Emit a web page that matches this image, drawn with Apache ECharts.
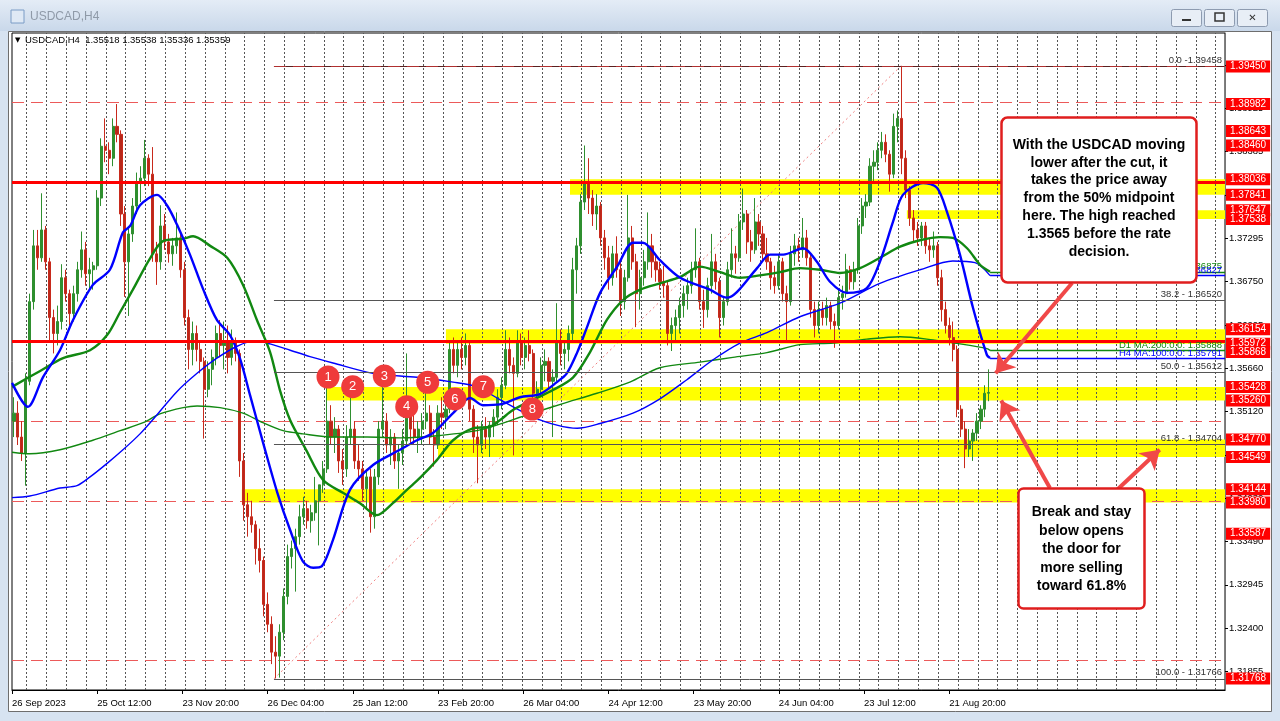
<!DOCTYPE html>
<html><head><meta charset="utf-8">
<script src="https://cdn.jsdelivr.net/npm/echarts@6/dist/echarts.min.js"></script>
<style>html,body{margin:0;padding:0;background:#d7e3f1;}#c{width:1280px;height:721px;}</style>
</head><body><div id="c"></div>
<script>
// ---------------- DATA ----------------
const opens = [
1.3500,1.3510,1.3480,1.3460,1.3550,1.3650,1.3720,1.3705,1.3740,1.3700,
1.3630,1.3610,1.3625,1.3680,1.3660,1.3635,1.3660,1.3690,1.3715,1.3685,
1.3690,1.3695,1.3780,1.3845,1.3840,1.3830,1.3870,1.3860,1.3760,1.3700,
1.3735,1.3770,1.3800,1.3805,1.3830,1.3810,1.3710,1.3700,1.3745,1.3725,
1.3710,1.3720,1.3730,1.3690,1.3630,1.3590,1.3610,1.3590,1.3575,1.3540,
1.3565,1.3580,1.3610,1.3595,1.3600,1.3580,1.3600,1.3585,1.3450,1.3395,
1.3380,1.3370,1.3340,1.3325,1.3270,1.3245,1.3210,1.3205,1.3235,1.3280,
1.3330,1.3340,1.3355,1.3380,1.3390,1.3375,1.3385,1.3400,1.3420,1.3440,
1.3500,1.3480,1.3490,1.3450,1.3440,1.3480,1.3490,1.3450,1.3440,1.3415,
1.3430,1.3380,1.3430,1.3490,1.3500,1.3470,1.3480,1.3450,1.3460,1.3475,
1.3520,1.3490,1.3480,1.3490,1.3500,1.3510,1.3480,1.3470,1.3510,1.3505,
1.3515,1.3590,1.3570,1.3590,1.3580,1.3595,1.3515,1.3480,1.3470,1.3490,
1.3480,1.3495,1.3505,1.3530,1.3545,1.3590,1.3570,1.3560,1.3600,1.3580,
1.3595,1.3585,1.3535,1.3540,1.3570,1.3575,1.3550,1.3555,1.3600,1.3585,
1.3590,1.3610,1.3690,1.3720,1.3775,1.3800,1.3780,1.3760,1.3770,1.3730,
1.3705,1.3680,1.3710,1.3690,1.3650,1.3680,1.3730,1.3700,1.3660,1.3680,
1.3700,1.3720,1.3700,1.3690,1.3675,1.3670,1.3610,1.3620,1.3630,1.3645,
1.3660,1.3670,1.3690,1.3700,1.3650,1.3640,1.3670,1.3700,1.3675,1.3630,
1.3650,1.3690,1.3710,1.3705,1.3750,1.3760,1.3725,1.3715,1.3750,1.3735,
1.3710,1.3700,1.3680,1.3670,1.3700,1.3660,1.3650,1.3710,1.3720,1.3715,
1.3730,1.3705,1.3640,1.3620,1.3640,1.3630,1.3645,1.3625,1.3620,1.3655,
1.3660,1.3690,1.3675,1.3690,1.3745,1.3770,1.3775,1.3820,1.3825,1.3840,
1.3850,1.3835,1.3810,1.3870,1.3880,1.3830,1.3790,1.3755,1.3740,1.3730,
1.3745,1.3720,1.3715,1.3720,1.3680,1.3640,1.3620,1.3605,1.3590,1.3515,
1.3490,1.3465,1.3475,1.3485,1.3500,1.3515,1.3535];
const highs = [
1.3530,1.3525,1.3500,1.3560,1.3660,1.3740,1.3740,1.3786,1.3745,1.3705,
1.3640,1.3645,1.3697,1.3690,1.3665,1.3670,1.3700,1.3738,1.3725,1.3705,
1.3700,1.3790,1.3855,1.3880,1.3850,1.3880,1.3898,1.3865,1.3770,1.3745,
1.3780,1.3812,1.3820,1.3853,1.3835,1.3844,1.3725,1.3771,1.3760,1.3735,
1.3730,1.3762,1.3735,1.3700,1.3640,1.3625,1.3620,1.3600,1.3580,1.3575,
1.3590,1.3620,1.3627,1.3625,1.3620,1.3615,1.3605,1.3590,1.3460,1.3410,
1.3400,1.3375,1.3365,1.3330,1.3285,1.3255,1.3230,1.3245,1.3290,1.3345,
1.3350,1.3365,1.3395,1.3405,1.3400,1.3395,1.3430,1.3410,1.3450,1.3543,
1.3520,1.3505,1.3495,1.3465,1.3495,1.3533,1.3500,1.3470,1.3450,1.3440,
1.3440,1.3440,1.3500,1.3547,1.3510,1.3490,1.3485,1.3470,1.3490,1.3585,
1.3530,1.3510,1.3500,1.3510,1.3537,1.3520,1.3490,1.3520,1.3530,1.3525,
1.3600,1.3605,1.3600,1.3605,1.3610,1.3600,1.3520,1.3495,1.3500,1.3505,
1.3500,1.3515,1.3540,1.3555,1.3614,1.3605,1.3580,1.3614,1.3610,1.3605,
1.3614,1.3590,1.3550,1.3580,1.3590,1.3580,1.3565,1.3648,1.3615,1.3600,
1.3620,1.3705,1.3730,1.3785,1.3846,1.3830,1.3790,1.3785,1.3775,1.3740,
1.3720,1.3720,1.3732,1.3700,1.3690,1.3784,1.3745,1.3710,1.3690,1.3715,
1.3762,1.3735,1.3710,1.3700,1.3695,1.3675,1.3630,1.3640,1.3655,1.3670,
1.3680,1.3700,1.3742,1.3705,1.3665,1.3680,1.3735,1.3710,1.3680,1.3655,
1.3700,1.3742,1.3720,1.3760,1.3792,1.3765,1.3740,1.3780,1.3760,1.3745,
1.3730,1.3705,1.3695,1.3710,1.3705,1.3670,1.3720,1.3735,1.3730,1.3755,
1.3740,1.3710,1.3650,1.3650,1.3650,1.3655,1.3650,1.3635,1.3665,1.3670,
1.3710,1.3695,1.3700,1.3755,1.3780,1.3785,1.3830,1.3840,1.3850,1.3863,
1.3860,1.3840,1.3886,1.3890,1.3946,1.3840,1.3795,1.3765,1.3750,1.3750,
1.3750,1.3730,1.3738,1.3725,1.3690,1.3650,1.3630,1.3625,1.3595,1.3520,
1.3500,1.3490,1.3490,1.3510,1.3520,1.3545,1.3565];
const lows = [
1.3480,1.3470,1.3450,1.3419,1.3545,1.3640,1.3690,1.3700,1.3690,1.3600,
1.3585,1.3595,1.3615,1.3650,1.3620,1.3625,1.3650,1.3680,1.3670,1.3665,
1.3665,1.3690,1.3770,1.3825,1.3810,1.3820,1.3850,1.3745,1.3656,1.3632,
1.3725,1.3760,1.3775,1.3795,1.3795,1.3700,1.3671,1.3690,1.3715,1.3699,
1.3695,1.3710,1.3680,1.3620,1.3565,1.3570,1.3575,1.3560,1.3478,1.3530,
1.3545,1.3570,1.3580,1.3565,1.3560,1.3570,1.3575,1.3430,1.3375,1.3355,
1.3360,1.3320,1.3310,1.3255,1.3235,1.3195,1.3177,1.3178,1.3225,1.3270,
1.3315,1.3286,1.3345,1.3370,1.3365,1.3360,1.3375,1.3344,1.3410,1.3435,
1.3470,1.3460,1.3435,1.3420,1.3430,1.3470,1.3440,1.3425,1.3400,1.3390,
1.3360,1.3365,1.3420,1.3480,1.3460,1.3445,1.3440,1.3415,1.3445,1.3470,
1.3470,1.3470,1.3460,1.3470,1.3490,1.3470,1.3443,1.3465,1.3490,1.3490,
1.3510,1.3560,1.3555,1.3565,1.3570,1.3500,1.3460,1.3422,1.3460,1.3465,
1.3455,1.3480,1.3495,1.3515,1.3540,1.3560,1.3457,1.3555,1.3570,1.3565,
1.3575,1.3525,1.3515,1.3530,1.3550,1.3540,1.3480,1.3550,1.3570,1.3565,
1.3575,1.3600,1.3660,1.3710,1.3765,1.3760,1.3745,1.3740,1.3720,1.3690,
1.3665,1.3670,1.3680,1.3632,1.3640,1.3675,1.3690,1.3618,1.3640,1.3670,
1.3690,1.3680,1.3675,1.3665,1.3655,1.3595,1.3588,1.3600,1.3610,1.3630,
1.3640,1.3660,1.3680,1.3640,1.3617,1.3630,1.3660,1.3665,1.3605,1.3620,
1.3645,1.3680,1.3685,1.3700,1.3740,1.3710,1.3700,1.3710,1.3720,1.3700,
1.3690,1.3665,1.3660,1.3665,1.3650,1.3600,1.3645,1.3695,1.3700,1.3705,
1.3695,1.3630,1.3605,1.3610,1.3620,1.3620,1.3615,1.3592,1.3615,1.3640,
1.3655,1.3665,1.3665,1.3685,1.3735,1.3755,1.3770,1.3800,1.3815,1.3830,
1.3825,1.3788,1.3805,1.3850,1.3810,1.3780,1.3745,1.3725,1.3720,1.3720,
1.3710,1.3700,1.3705,1.3670,1.3625,1.3610,1.3595,1.3575,1.3505,1.3480,
1.3441,1.3455,1.3450,1.3475,1.3490,1.3505,1.3525];
const closes = [
1.3510,1.3480,1.3460,1.3550,1.3650,1.3720,1.3705,1.3740,1.3700,1.3630,
1.3610,1.3625,1.3680,1.3660,1.3635,1.3660,1.3690,1.3715,1.3685,1.3690,
1.3695,1.3780,1.3845,1.3840,1.3830,1.3870,1.3860,1.3760,1.3700,1.3735,
1.3770,1.3800,1.3805,1.3830,1.3810,1.3710,1.3700,1.3745,1.3725,1.3710,
1.3720,1.3730,1.3690,1.3630,1.3590,1.3610,1.3590,1.3575,1.3540,1.3565,
1.3580,1.3610,1.3595,1.3600,1.3580,1.3600,1.3585,1.3450,1.3395,1.3380,
1.3370,1.3340,1.3325,1.3270,1.3245,1.3210,1.3205,1.3235,1.3280,1.3330,
1.3340,1.3355,1.3380,1.3390,1.3375,1.3385,1.3400,1.3420,1.3440,1.3500,
1.3480,1.3490,1.3450,1.3440,1.3480,1.3490,1.3450,1.3440,1.3415,1.3430,
1.3380,1.3430,1.3490,1.3500,1.3470,1.3480,1.3450,1.3460,1.3475,1.3520,
1.3490,1.3480,1.3490,1.3500,1.3510,1.3480,1.3470,1.3510,1.3505,1.3515,
1.3590,1.3570,1.3590,1.3580,1.3595,1.3515,1.3480,1.3470,1.3490,1.3480,
1.3495,1.3505,1.3530,1.3545,1.3590,1.3570,1.3560,1.3600,1.3580,1.3595,
1.3585,1.3535,1.3540,1.3570,1.3575,1.3550,1.3555,1.3600,1.3585,1.3590,
1.3610,1.3690,1.3720,1.3775,1.3800,1.3780,1.3760,1.3770,1.3730,1.3705,
1.3680,1.3710,1.3690,1.3650,1.3680,1.3730,1.3700,1.3660,1.3680,1.3700,
1.3720,1.3700,1.3690,1.3675,1.3670,1.3610,1.3620,1.3630,1.3645,1.3660,
1.3670,1.3690,1.3700,1.3650,1.3640,1.3670,1.3700,1.3675,1.3630,1.3650,
1.3690,1.3710,1.3705,1.3750,1.3760,1.3725,1.3715,1.3750,1.3735,1.3710,
1.3700,1.3680,1.3670,1.3700,1.3660,1.3650,1.3710,1.3720,1.3715,1.3730,
1.3705,1.3640,1.3620,1.3640,1.3630,1.3645,1.3625,1.3620,1.3655,1.3660,
1.3690,1.3675,1.3690,1.3745,1.3770,1.3775,1.3820,1.3825,1.3840,1.3850,
1.3835,1.3810,1.3870,1.3880,1.3830,1.3790,1.3755,1.3740,1.3730,1.3745,
1.3720,1.3715,1.3720,1.3680,1.3640,1.3620,1.3605,1.3590,1.3515,1.3490,
1.3465,1.3475,1.3485,1.3500,1.3515,1.3535,1.3536];

// moving averages: [trading-day, price]
const maH4Fast = [[0,1.3548],[4.0,1.3518],[7.8,1.3555],[12.1,1.3589],[15.4,1.3627],[20.4,1.3671],[24.7,1.3690],[28.0,1.3737],[29.8,1.3745],[32.3,1.3771],[36.6,1.3784],[39.1,1.3771],[41.6,1.3747],[44.9,1.3709],[48.2,1.3666],[51.7,1.3627],[55.0,1.3608],[57.5,1.3579],[60.1,1.3532],[63.3,1.3474],[66.9,1.3411],[70.2,1.3363],[73.4,1.3324],[76.0,1.3316],[78.2,1.3318],[81.0,1.3351],[85.3,1.3414],[91.1,1.3445],[97.9,1.3464],[102.2,1.3476],[106.2,1.3485],[111.3,1.3510],[115.6,1.3529],[118.8,1.3520],[123.1,1.3521],[128.2,1.3530],[133.2,1.3534],[137.5,1.3549],[140.0,1.3560],[142.6,1.3586],[145.1,1.3618],[148.4,1.3661],[152.7,1.3694],[156.7,1.3724],[159.2,1.3724],[163.5,1.3702],[168.6,1.3680],[176.1,1.3665],[180.4,1.3655],[182.9,1.3662],[188.0,1.3692],[191.3,1.3709],[194.6,1.3709],[199.6,1.3717],[203.1,1.3700],[206.4,1.3675],[210.7,1.3661],[215.7,1.3667],[219.0,1.3700],[222.3,1.3750],[224.8,1.3784],[229.9,1.3799],[233.4,1.3793],[235.9,1.3763],[239.2,1.3709],[242.5,1.3642],[246.0,1.3583],[246.8,1.35791]];
const maH4Slow = [[0,1.3543],[7.1,1.3563],[12.9,1.3579],[19.7,1.3589],[24.0,1.3608],[27.3,1.3637],[30.5,1.3665],[34.8,1.3704],[38.1,1.3726],[43.2,1.3729],[45.7,1.3732],[50.0,1.3720],[54.3,1.3705],[58.3,1.3671],[61.8,1.3627],[65.1,1.3587],[67.6,1.3539],[70.2,1.3501],[74.2,1.3464],[78.5,1.3426],[83.5,1.3410],[87.8,1.3397],[92.1,1.3382],[96.1,1.3397],[99.7,1.3414],[103.0,1.3429],[107.2,1.3451],[111.3,1.3476],[116.3,1.3491],[120.6,1.3493],[123.1,1.3501],[126.4,1.3514],[131.5,1.3527],[136.5,1.3539],[141.6,1.3555],[145.9,1.3587],[150.1,1.3627],[154.2,1.3652],[158.5,1.3665],[163.5,1.3673],[168.6,1.3681],[173.6,1.3694],[178.7,1.3687],[183.7,1.3680],[188.7,1.3683],[193.8,1.3687],[198.8,1.3692],[203.9,1.3690],[208.9,1.3686],[214.0,1.3692],[219.0,1.3705],[224.1,1.3719],[229.1,1.3727],[234.2,1.3731],[237.4,1.3730],[241.0,1.3717],[244.3,1.3696],[246.8,1.36875]];
const maD1Fast = [[0,1.3404],[4.5,1.3406],[12.1,1.3416],[16.4,1.3419],[19.7,1.3430],[24.0,1.3447],[28.0,1.3464],[32.3,1.3484],[36.6,1.3508],[41.6,1.3537],[46.7,1.3560],[51.7,1.3579],[56.8,1.3594],[61.3,1.3601],[65.1,1.3597],[70.2,1.3589],[75.2,1.3581],[81.0,1.3573],[91.1,1.3560],[102.2,1.3555],[111.3,1.3549],[117.3,1.3543],[123.1,1.3527],[131.5,1.3505],[137.5,1.3495],[142.6,1.3491],[148.4,1.3497],[156.7,1.3510],[163.5,1.3528],[170.3,1.3552],[176.9,1.3577],[183.7,1.3598],[190.5,1.3611],[198.8,1.3631],[208.9,1.3648],[219.0,1.3673],[229.1,1.3690],[237.4,1.3701],[243.0,1.3699],[246.8,1.36827]];
const maD1Slow = [[0,1.3461],[4.5,1.3459],[12.1,1.3464],[20.4,1.3476],[27.3,1.3488],[33.1,1.3498],[37.3,1.3509],[43.2,1.3517],[46.7,1.3519],[52.5,1.3517],[58.3,1.3510],[63.3,1.3498],[68.4,1.3488],[73.4,1.3484],[81.0,1.3480],[89.6,1.3480],[97.9,1.3479],[108.0,1.3482],[118.1,1.3489],[130.7,1.3509],[139.0,1.3522],[147.6,1.3535],[155.9,1.3549],[163.5,1.3567],[173.6,1.3574],[181.9,1.3580],[190.5,1.3586],[198.8,1.3596],[207.2,1.3598],[215.7,1.3603],[224.1,1.3606],[232.4,1.3602],[239.2,1.3597],[246.0,1.3591],[246.8,1.35888]];
const maLastDay = 246.8;
const maLevels = [1.35791, 1.36875, 1.36827, 1.35888];
const maLevelTexts = ['H4 MA:100:0.0: 1.35791', 'H4 MA:200:0.0: 1.36875', 'D1 MA:100:0.0: 1.36827', 'D1 MA:200:0.0: 1.35888'];

// time axis
const timeTicks = [0, 21.5, 43, 64.5, 86, 107.5, 129, 150.5, 172, 193.5, 215, 236.5];
const timeLabels = ['26 Sep 2023','25 Oct 12:00','23 Nov 20:00','26 Dec 04:00','25 Jan 12:00','23 Feb 20:00','26 Mar 04:00','24 Apr 12:00','23 May 20:00','24 Jun 04:00','23 Jul 12:00','21 Aug 20:00'];
// price axis
const priceTicks = [1.31855,1.32400,1.32945,1.33490,1.34030,1.34575,1.35120,1.35660,1.36205,1.36750,1.37295,1.37840,1.38385,1.38925,1.39470];
const priceTagLevels = [1.39450,1.38982,1.38643,1.38460,1.38036,1.37841,1.37647,1.37538,1.36154,1.35972,1.35868,1.35428,1.35260,1.34770,1.34549,1.34144,1.33980,1.33587,1.31768];
const dashedLevels = [1.38982,1.38643,1.38460,1.37841,1.37647,1.37538,1.36154,1.35972,1.35428,1.35260,1.34770,1.34549,1.34144,1.33980,1.33587,1.31768];
const solidLevels = [1.38036,1.35868];
const topLevel = 1.39450;
// support / resistance zones
const zoneTops    = [1.38036,1.37647,1.36154,1.35428,1.34770,1.34144];
const zoneBottoms = [1.37841,1.37538,1.35972,1.35260,1.34549,1.33980];
const zoneStartDays = [140.8,225.8,109.5,79.5,107.5,58.0];
// fibonacci
const fibRatios = ['0.0','38.2','50.0','61.8','100.0'];
const fibPrices = [1.39458,1.36520,1.35612,1.34704,1.31766];
const fibLowDay = 66.1, fibHighDay = 224.3;
// numbered test markers
const markerDays   = [79.74,85.97,93.94,99.6,104.9,111.78,118.92,131.29];
const markerPrices = [1.35554,1.35432,1.35567,1.35181,1.35488,1.35278,1.35432,1.35152];
const markerLabels = ['1','2','3','4','5','6','7','8'];
// annotation arrows
const arrowFromDays = [267.5, 261.9, 278.8];
const arrowFromPrices = [1.36734, 1.34161, 1.34136];
const arrowToDays = [248.2, 249.6, 289.6];
const arrowToPrices = [1.35600, 1.35260, 1.34640];
const noteTop = ['With the USDCAD moving','lower after the cut, it','takes the price away','from the 50% midpoint','here. The high reached','1.3565 before the rate','decision.'];
const noteBottom = ['Break and stay','below opens','the door for','more selling','toward 61.8%'];

// ---------------- CHART ----------------
const F = '"Liberation Sans", Arial, sans-serif';
const TMAX = 306.08;
const candleRows = opens.map((o, i) => [i + 0.5, o, closes[i], lows[i], highs[i]]);
const holder = [[0, 1.35]];
const gridDays = []; for (let t = 3.7; t < TMAX; t += 5) gridDays.push(t);

function blankLine(extra) {
  return Object.assign({ type: 'line', data: holder, symbol: 'none', showSymbol: false, silent: true,
    lineStyle: { color: 'rgba(0,0,0,0)', width: 0 }, animation: false, clip: false }, extra);
}
const maColors = ['#0000ff', '#118811', '#0000ff', '#118811'];

const option = {
  animation: false,
  backgroundColor: '#d7e3f1',
  grid: { left: 12, right: 55, top: 33, bottom: 31, show: true, borderColor: '#000', borderWidth: 1, backgroundColor: 'transparent' },
  xAxis: {
    type: 'value', min: 0, max: TMAX,
    axisLine: { show: true, onZero: false, lineStyle: { color: '#000' } },
    axisTick: { show: true, customValues: timeTicks, length: 4, lineStyle: { color: '#000' } },
    axisLabel: { customValues: timeTicks, align: 'left', margin: 8, fontSize: 9.5, color: '#000', fontFamily: F,
      formatter: v => { let b = 0; timeTicks.forEach((t, i) => { if (Math.abs(t - v) < Math.abs(timeTicks[b] - v)) b = i; }); return timeLabels[b]; } },
    splitLine: { show: false }
  },
  yAxis: {
    type: 'value', position: 'right', min: 1.31625, max: 1.39872, scale: true,
    axisLine: { show: true, onZero: false, lineStyle: { color: '#777' } },
    axisTick: { show: true, customValues: priceTicks, length: 3, lineStyle: { color: '#000' } },
    axisLabel: { customValues: priceTicks, margin: 4, fontSize: 9.5, color: '#000', fontFamily: F, formatter: v => v.toFixed(5) },
    splitLine: { show: false }
  },
  series: [
    blankLine({ z: 1, markArea: { silent: true, z: 1, itemStyle: { color: '#ffff00' },
      data: zoneTops.map((t, i) => [{ coord: [zoneStartDays[i], t] }, { coord: [TMAX, zoneBottoms[i]] }]) } }),
    blankLine({ z: 2, markLine: { silent: true, z: 2, symbol: ['none', 'none'], label: { show: false },
      data: gridDays.map(t => ({ xAxis: t, lineStyle: { color: '#555', type: [2, 2], width: 1 } }))
        .concat(dashedLevels.map(v => ({ yAxis: v, lineStyle: { color: '#ec5a5a', type: [12, 7], width: 1 } })))
        .concat([[{ coord: [fibLowDay, fibPrices[4]], lineStyle: { color: '#f08080', type: [2, 3], width: 1 } }, { coord: [fibHighDay, fibPrices[0]] }]])
    } }),
    { type: 'candlestick', z: 3, data: candleRows, encode: { x: 0, y: [1, 2, 3, 4] }, barWidth: 2.6, silent: true,
      itemStyle: { color: '#2f8f2f', color0: '#b8281a', borderColor: '#2f8f2f', borderColor0: '#c82a1c', borderWidth: 1 } },
    { type: 'line', z: 4, data: maD1Slow, smooth: 0.3, symbol: 'none', silent: true, lineStyle: { color: maColors[3], width: 1.4 } },
    { type: 'line', z: 4, data: maD1Fast, smooth: 0.3, symbol: 'none', silent: true, lineStyle: { color: maColors[2], width: 1.4 } },
    { type: 'line', z: 4, data: maH4Slow, smooth: 0.3, symbol: 'none', silent: true, lineStyle: { color: maColors[1], width: 2.4 } },
    { type: 'line', z: 4, data: maH4Fast, smooth: 0.3, symbol: 'none', silent: true, lineStyle: { color: maColors[0], width: 2.4 } },
    blankLine({ z: 6, markLine: { silent: true, z: 6, symbol: ['none', 'none'],
      data: solidLevels.map(v => ({ yAxis: v, lineStyle: { color: '#ff0000', type: 'solid', width: 3 }, label: { show: false } }))
        .concat(fibPrices.map((p, i) => [{ coord: [fibLowDay, p], lineStyle: { color: i === 0 ? '#5a2020' : '#555', type: 'solid', width: 1 },
            label: { show: true, position: 'insideEndTop', distance: [3, 1], formatter: fibRatios[i] + (i === 0 ? ' -' : ' - ') + p.toFixed(5), color: '#333', fontSize: 9.5, fontFamily: F } },
          { coord: [TMAX, p] }]))
        .concat([[{ coord: [fibLowDay, topLevel], lineStyle: { color: '#b03030', type: [12, 7], width: 1 }, label: { show: false } }, { coord: [TMAX, topLevel] }]])
        .concat(maLevels.map((v, i) => [{ coord: [maLastDay, v], lineStyle: { color: maColors[i], type: 'solid', width: 1.3 },
            label: { show: true, position: 'insideEndTop', distance: [3, 0], formatter: maLevelTexts[i], color: maColors[i], fontSize: 9.5, fontFamily: F } },
          { coord: [TMAX, v] }]))
    } }),
    { type: 'custom', z: 7, silent: true, clip: false, data: priceTagLevels.map(v => [TMAX, v]), encode: { x: 0, y: 1 },
      renderItem: (params, api) => {
        const pt = api.coord([api.value(0), api.value(1)]);
        return { type: 'text', x: pt[0] + 1, y: pt[1], z2: 100,
          style: { text: api.value(1).toFixed(5), fill: '#ffffff', backgroundColor: '#ff0000', padding: [1, 4, 1, 4],
            font: '10px ' + F, align: 'left', verticalAlign: 'middle' } };
      } },
    { type: 'scatter', z: 8, silent: true, data: markerDays.map((t, i) => [t, markerPrices[i], markerLabels[i]]),
      symbolSize: 23, itemStyle: { color: '#ef3b3b', opacity: 1 },
      label: { show: true, position: 'inside', formatter: p => p.data[2], color: '#fff', fontSize: 13, fontFamily: F } },
    blankLine({ z: 9, markLine: { silent: true, z: 9, symbol: ['none', 'arrow'], symbolSize: 18, label: { show: false },
      lineStyle: { color: '#f04848', width: 4, type: 'solid', opacity: 1 },
      data: arrowFromDays.map((t, i) => [{ coord: [t, arrowFromPrices[i]] }, { coord: [arrowToDays[i], arrowToPrices[i]] }]) } })
  ],
  graphic: [
    { type: 'rect', z: -10, silent: true, shape: { x: 0, y: 0, width: 1280, height: 31 },
      style: { fill: new echarts.graphic.LinearGradient(0, 0, 0, 1, [{ offset: 0, color: '#e4ecf6' }, { offset: 1, color: '#c9d8ea' }]) } },
    { type: 'rect', z: -10, silent: true, shape: { x: 8.5, y: 31.5, width: 1263, height: 680 }, style: { fill: '#ffffff', stroke: '#6e6e6e', lineWidth: 1 } },
    { type: 'rect', z: 5, silent: true, shape: { x: 11, y: 10, width: 13, height: 13 }, style: { fill: '#dfe9f5', stroke: '#7a9cc6', lineWidth: 1 } },
    { type: 'text', z: 5, silent: true, style: { x: 30, y: 17, text: 'USDCAD,H4', fill: '#8f9aa8', font: '12px ' + F, verticalAlign: 'middle' } },
    { type: 'rect', z: 5, silent: true, shape: { x: 1171.5, y: 9.5, width: 30, height: 17, r: 2 }, style: { fill: '#e8eef6', stroke: '#8d9bb0' } },
    { type: 'rect', z: 5, silent: true, shape: { x: 1204.5, y: 9.5, width: 30, height: 17, r: 2 }, style: { fill: '#e8eef6', stroke: '#8d9bb0' } },
    { type: 'rect', z: 5, silent: true, shape: { x: 1237.5, y: 9.5, width: 30, height: 17, r: 2 }, style: { fill: '#e8eef6', stroke: '#8d9bb0' } },
    { type: 'rect', z: 5, silent: true, shape: { x: 1182, y: 19, width: 9, height: 2 }, style: { fill: '#333' } },
    { type: 'rect', z: 5, silent: true, shape: { x: 1215, y: 13, width: 9, height: 8 }, style: { fill: 'none', stroke: '#333', lineWidth: 1.5 } },
    { type: 'text', z: 5, silent: true, style: { x: 1252.5, y: 18, text: '✕', fill: '#333', font: 'bold 10px "DejaVu Sans"', align: 'center', verticalAlign: 'middle' } },
    { type: 'text', z: 20, silent: true, style: { x: 15, y: 40, text: '▼', fill: '#000', font: '7px "DejaVu Sans"', verticalAlign: 'middle' } },
    { type: 'text', z: 20, silent: true, style: { x: 25, y: 40, text: 'USDCAD,H4  1.35518 1.35538 1.35336 1.35359', fill: '#000', font: '9.5px ' + F, verticalAlign: 'middle' } },
    { type: 'rect', z: 30, silent: true, shape: { x: 1001.5, y: 117.5, width: 195, height: 165, r: 6 }, style: { fill: '#fff', stroke: '#e01e1e', lineWidth: 2.5 } },
    { type: 'text', z: 31, silent: true, style: { x: 1099, y: 136, text: noteTop.join('\n'), fill: '#000', font: 'bold 14px ' + F, align: 'center', verticalAlign: 'top', lineHeight: 17.8 } },
    { type: 'rect', z: 30, silent: true, shape: { x: 1018.5, y: 488.5, width: 126, height: 120, r: 5 }, style: { fill: '#fff', stroke: '#e01e1e', lineWidth: 2.5 } },
    { type: 'text', z: 31, silent: true, style: { x: 1081.5, y: 503, text: noteBottom.join('\n'), fill: '#000', font: 'bold 14px ' + F, align: 'center', verticalAlign: 'top', lineHeight: 18.5 } }
  ]
};
const chart = echarts.init(document.getElementById('c'), null, { width: 1280, height: 721 });
chart.setOption(option);
</script></body></html>
